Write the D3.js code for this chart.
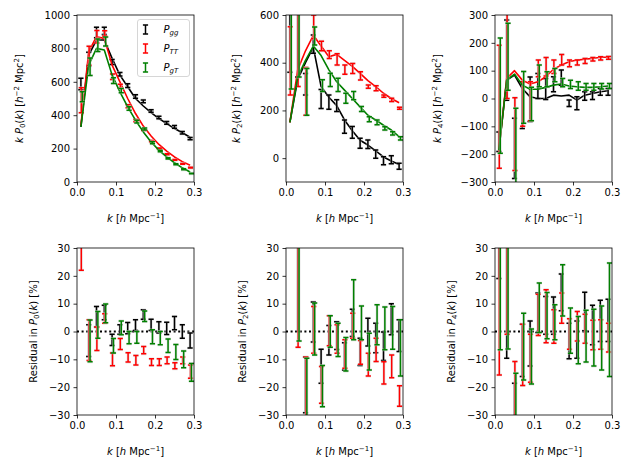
<!DOCTYPE html>
<html><head><meta charset="utf-8">
<script src="https://cdn.jsdelivr.net/npm/d3@7"></script>
<style>
body{margin:0;background:#fff;}
svg{display:block;}
text{font-family:"DejaVu Sans",sans-serif;}
</style>
</head><body>
<svg id="c" width="632" height="473"></svg>
<script>
// ---------------- DATA ----------------
const kBins = [0.01,0.03,0.05,0.07,0.09,0.11,0.13,0.15,0.17,0.19,0.21,0.23,0.25,0.27,0.29];
const kShift = {gg:0, TT:0.001, gT:0.0035};
const seriesNames = ["gg","TT","gT"];
const seriesLabels = ["gg","TT","gT"];
const seriesColors = {gg:"#000000", TT:"#ff0000", gT:"#008000"};
const xTicks = [0,0.1,0.2,0.3];

// Monopole k P0(k)
const p0ModelGG = [330,760,850,850,740,640,570,500,455,415,380,350,320,295,268];
const p0DataGG  = [587,735,895,905,718,645,577,512,483,425,386,354,330,295,260];
const p0ErrGG   = [35,42,31,22,15,11,11,10,8,8,8,8,8,7,7];
const p0ModelTT = [340,780,870,860,700,600,500,410,335,275,225,185,150,122,100];
const p0DataTT  = [490,756,870,890,630,573,454,368,313,245,200,166,132,109,86];
const p0ErrTT   = [75,57,37,15,16,12,9,7,5,4,3,3,2,2,2.4];
const p0ModelGT = [330,700,800,790,640,540,450,370,300,240,190,150,115,85,60];
const p0DataGT  = [510,690,819,841,607,547,440,362,317,235,185,142,106,76,51];
const p0ErrGT   = [30,52,38,27,17,13,10,8,6,6,4.5,3.6,3.1,2.6,1.9];

// Quadrupole k P2(k)
const p2ModelGG = [150,330,400,465,300,255,220,160,115,75,55,30,5,-12,-27];
const p2DataGG  = [520,540,310,478,248,235,220,132,108,62,58,17,-11,-7,-34];
const p2ErrGG   = [160,200,45,38,40,30,25,28,25,21,18,17,17,17,13];
const p2ModelTT = [150,370,450,515,470,425,435,410,385,355,325,300,272,250,232];
const p2DataTT  = [408,500,280,550,470,434,414,371,376,345,300,293,260,244,209];
const p2ErrTT   = [143,200,100,50,20,16,24,19,21,17,7,10,5,7,4];
const p2ModelGT = [150,340,410,470,430,370,320,285,250,215,180,160,138,118,90];
const p2DataGT  = [450,520,278,512,304,328,307,251,262,206,163,150,125,104,83];
const p2ErrGT   = [160,180,98,38,25,28,28,21,17,10,10,10,7,7,7];

// Hexadecapole k P4(k)
const p4ModelGG = [-185,66,84,36,6,0,0,12,9,12,-6,12,18,24,28];
const p4DataGG  = [-155,138,-179,-24,-3,45,34,51,75,-17,-17,9,10,24,24];
const p4ErrGG   = [35,144,108,84,80,45,38,27,27,12,23,15,14,12,12];
const p4ModelTT = [-185,72,100,66,52,60,78,105,120,132,138,141,144,148,148];
const p4DataTT  = [-30,200,-128,-20,-10,108,114,114,139,126,129,135,141,144,146];
const p4ErrTT   = [221,200,131,80,70,30,33,24,19,12,9,9,6,6,5];
const p4ModelGT = [-185,66,88,48,33,33,40,48,52,45,42,40,40,42,45];
const p4DataGT  = [10,150,-200,4,-20,81,69,84,57,51,45,42,42,44,45];
const p4ErrGT   = [207,120,165,93,60,39,27,24,15,15,15,12,12,10,9];

// Residuals [%]
const r0GG  = [78,-3.3,5.3,6.8,-3,0.7,1.2,2.3,6.1,2.4,1.5,1.1,3,0,-3.2];
const r0eGG = [10,5.7,3.7,2.6,2,1.7,2,1.9,1.7,2,2,2.2,2.4,2.4,2.7];
const r0TT  = [44,-3.1,-2.6,4.7,-10,-4.5,-9.3,-10.3,-6.7,-11,-11,-10.4,-12.3,-10.4,-14.4];
const r0eTT = [22,7.3,4.2,1.7,2.3,2,1.7,1.7,1.3,1.2,1.2,1.2,1.1,1.2,2.4];
const r0GT  = [51,-3.4,2.4,6.5,-5.1,1.3,-2.2,-2.1,5.5,-1.9,-2.4,-5.1,-7.4,-10,-14.7];
const r0eGT = [7.5,7.5,4.8,3.4,2.6,2.5,2.2,2.1,1.9,2.5,2.4,2.4,2.7,3,3.2];

const r2GG  = [70,40,-19.2,3.4,-12.5,-3.1,-1.5,-8.9,3.1,-7.3,-0.2,-2.3,-5.3,4.4,-1.5];
const r2eGG = [20,40,10,7.2,6.1,5.3,5,4.9,4.9,4.9,5,5.3,5.1,5.6,5.7];
const r2TT  = [70,40,-30,0.6,-19.2,0.3,-2.7,-8.1,2.1,-7.5,-11.9,-6.6,-14.9,-12.5,-23.2];
const r2eTT = [20,45.7,20.8,8.4,6.6,5.4,5.1,5.1,4.5,4.3,4.1,4.2,4,4.1,3.7];
const r2GT  = [70,40,-30,0.9,-19.6,0,-3,-8.2,7.8,3.1,-7.2,2.4,1.1,1.3,-5.9];
const r2eGT = [20,43.4,20.4,9.3,7.4,5.7,6,6,10.8,6.1,6.6,7.2,7.7,7.7,10.1];

const r4GG  = [40,30,-40,-6.8,-4.3,6.7,5.8,5.7,14.1,-3.4,-2.9,7.2,2.3,3.8,4];
const r4eGG = [21,39.6,21.4,9.4,8.1,7.1,6.8,6.7,6.6,6.4,6.7,6.9,7.1,7.4,7.6];
const r4TT  = [20,30,-30,-8.4,-9.6,6,5.5,1.8,8.4,-0.9,1.9,1,-1.3,-1.1,-2.2];
const r4eTT = [35.6,31,19.2,11,8.6,7.4,9.5,6,5.4,5.5,5.3,5.2,5.3,5.3,5.2];
const r4GT  = [25,25,-40,-5.4,-9,8.5,5.7,3.3,14.8,0.3,-3.1,-1.7,-2.2,-2.3,4.2];
const r4eGT = [31.6,31.3,25,12,9.9,8.9,8.3,6.3,9.2,8.1,8.5,9.3,10.2,11.5,20.4];

const yTicksP0 = [0,200,400,600,800,1000];
const yTicksP2 = [0,200,400,600];
const yTicksP4 = [-300,-200,-100,0,100,200,300];
const yTicksRes = [-30,-20,-10,0,10,20,30];

// ---------------- LAYOUT ----------------
const svg = d3.select("#c");
const W = 117, H = 167;
const colX = [77, 286, 495], rowY = [15, 248];
let clipId = 0;

function panel(col, row, yDomain, yTicks, series, residual) {
  const x0 = colX[col], y0 = rowY[row];
  const g = svg.append("g").attr("transform", `translate(${x0},${y0})`);
  const x = d3.scaleLinear().domain([0, 0.3]).range([0, W]);
  const y = d3.scaleLinear().domain(yDomain).range([H, 0]);
  const id = "clip" + (clipId++);
  g.append("clipPath").attr("id", id).append("rect").attr("width", W).attr("height", H);
  const p = g.append("g").attr("clip-path", `url(#${id})`);

  if (residual) {
    p.append("line").attr("x1", 0).attr("x2", W).attr("y1", y(0)).attr("y2", y(0))
      .attr("stroke", "#000").attr("stroke-width", 2).attr("stroke-dasharray", "2,2.6");
  }
  const line = d3.line().x((d, i) => x(kBins[i])).y(d => y(d));
  series.forEach(s => {
    if (s.model) {
      p.append("path").attr("d", line(s.model)).attr("fill", "none")
        .attr("stroke", s.color).attr("stroke-width", 1.6).attr("stroke-linejoin", "round");
    }
    const eb = p.append("g");
    s.data.forEach((v, i) => {
      const cx = x(kBins[i] + s.shift);
      const ya = y(v - s.err[i]), yb = y(v + s.err[i]);
      const d = `M${cx},${ya}V${yb}M${cx-2.6},${ya}H${cx+2.6}M${cx-2.6},${yb}H${cx+2.6}`;
      eb.append("path").attr("d", d).attr("fill", "none").attr("stroke", "#cfcfcf")
        .attr("stroke-width", 2.8).attr("stroke-opacity", 0.6);
      eb.append("path").attr("d", d).attr("fill", "none").attr("stroke", s.color)
        .attr("stroke-width", 1.5);
    });
  });

  // axes
  const ax = g.append("g").attr("transform", `translate(0,${H})`)
    .call(d3.axisBottom(x).tickValues(xTicks).tickSize(3.5).tickPadding(3.5).tickFormat(d3.format(".1f")));
  const ay = g.append("g")
    .call(d3.axisLeft(y).tickValues(yTicks).tickSize(3.5).tickPadding(3.5).tickFormat(d3.format("d")));
  [ax, ay].forEach(a => {
    a.select(".domain").remove();
    a.selectAll(".tick line").attr("stroke", "#000").attr("stroke-width", 0.8);
    a.selectAll(".tick text").attr("font-size", 10).attr("fill", "#000")
      .attr("font-family", "DejaVu Sans");
  });
  g.append("rect").attr("width", W).attr("height", H).attr("fill", "none")
    .attr("stroke", "#000").attr("stroke-width", 0.8);

  // x label
  const xl = g.append("text").attr("x", W / 2).attr("y", 207).attr("text-anchor", "middle")
    .attr("font-size", 10);
  xl.append("tspan").attr("font-style", "italic").text("k");
  xl.append("tspan").text(" [");
  xl.append("tspan").attr("font-style", "italic").text("h");
  xl.append("tspan").text(" Mpc");
  xl.append("tspan").attr("font-size", 7).attr("dy", -4).text("\u22121");
  xl.append("tspan").attr("dy", 4).text("]");
  return g;
}

function yLabelTop(xBase, ell) {
  const t = svg.append("text").attr("transform", `translate(${xBase},${rowY[0] + H/2}) rotate(-90)`)
    .attr("text-anchor", "middle").attr("font-size", 10);
  t.append("tspan").attr("font-style", "italic").text("k P");
  t.append("tspan").attr("font-size", 7).attr("dy", 2).text(ell);
  t.append("tspan").attr("dy", -2).text("(");
  t.append("tspan").attr("font-style", "italic").text("k");
  t.append("tspan").text(") [");
  t.append("tspan").attr("font-style", "italic").text("h");
  t.append("tspan").attr("font-size", 7).attr("dy", -4).text("\u22122");
  t.append("tspan").attr("dy", 4).text(" Mpc");
  t.append("tspan").attr("font-size", 7).attr("dy", -4).text("2");
  t.append("tspan").attr("dy", 4).text("]");
}
function yLabelRes(xBase, ell) {
  const t = svg.append("text").attr("transform", `translate(${xBase},${rowY[1] + H/2}) rotate(-90)`)
    .attr("text-anchor", "middle").attr("font-size", 10);
  t.append("tspan").text("Residual in ");
  t.append("tspan").attr("font-style", "italic").text("P");
  t.append("tspan").attr("font-size", 7).attr("dy", 2).text(ell);
  t.append("tspan").attr("dy", -2).text("(");
  t.append("tspan").attr("font-style", "italic").text("k");
  t.append("tspan").text(")  [%]");
}

function mk(model, data, err, name) {
  return {model, data, err, color: seriesColors[name], shift: kShift[name]};
}

panel(0, 0, [0, 1000], yTicksP0, [
  mk(p0ModelGG, p0DataGG, p0ErrGG, "gg"),
  mk(p0ModelTT, p0DataTT, p0ErrTT, "TT"),
  mk(p0ModelGT, p0DataGT, p0ErrGT, "gT")], false);
panel(1, 0, [-100, 600], yTicksP2, [
  mk(p2ModelGG, p2DataGG, p2ErrGG, "gg"),
  mk(p2ModelTT, p2DataTT, p2ErrTT, "TT"),
  mk(p2ModelGT, p2DataGT, p2ErrGT, "gT")], false);
panel(2, 0, [-300, 300], yTicksP4, [
  mk(p4ModelGG, p4DataGG, p4ErrGG, "gg"),
  mk(p4ModelTT, p4DataTT, p4ErrTT, "TT"),
  mk(p4ModelGT, p4DataGT, p4ErrGT, "gT")], false);
panel(0, 1, [-30, 30], yTicksRes, [
  mk(null, r0GG, r0eGG, "gg"), mk(null, r0TT, r0eTT, "TT"), mk(null, r0GT, r0eGT, "gT")], true);
panel(1, 1, [-30, 30], yTicksRes, [
  mk(null, r2GG, r2eGG, "gg"), mk(null, r2TT, r2eTT, "TT"), mk(null, r2GT, r2eGT, "gT")], true);
panel(2, 1, [-30, 30], yTicksRes, [
  mk(null, r4GG, r4eGG, "gg"), mk(null, r4TT, r4eTT, "TT"), mk(null, r4GT, r4eGT, "gT")], true);

yLabelTop(23, "0"); yLabelTop(240, "2"); yLabelTop(441, "4");
yLabelRes(36.5, "0"); yLabelRes(245.5, "2"); yLabelRes(454.5, "4");

// legend
const lg = svg.append("g").attr("transform", "translate(137.5,19.5)");
lg.append("rect").attr("width", 52).attr("height", 57).attr("rx", 2.5)
  .attr("fill", "#fff").attr("fill-opacity", 0.8).attr("stroke", "#cccccc").attr("stroke-width", 0.8);
seriesNames.forEach((n, i) => {
  const cy = 10 + i * 19;
  const cx = 8;
  lg.append("path").attr("d", `M${cx},${cy-4.5}V${cy+4.5}M${cx-2.6},${cy-4.5}H${cx+2.6}M${cx-2.6},${cy+4.5}H${cx+2.6}`)
    .attr("stroke", seriesColors[n]).attr("stroke-width", 1.5).attr("fill", "none");
  const t = lg.append("text").attr("x", 26).attr("y", cy + 3.5).attr("font-size", 10);
  t.append("tspan").attr("font-style", "italic").text("P");
  t.append("tspan").attr("font-style", "italic").attr("font-size", 7).attr("dy", 2).text(seriesLabels[i]);
});
</script>
</body></html>
